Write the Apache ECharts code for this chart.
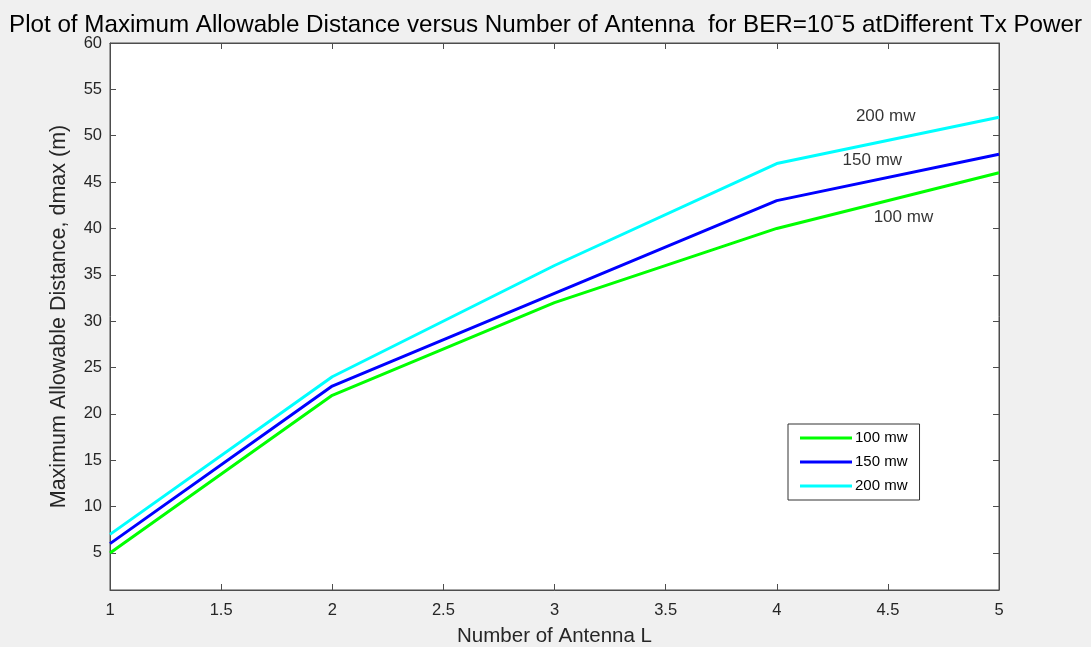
<!DOCTYPE html>
<html><head><meta charset="utf-8">
<script src="https://cdn.jsdelivr.net/npm/echarts@6/dist/echarts.min.js"></script>
<style>html,body{margin:0;padding:0;background:#f0f0f0;}#c{width:1091px;height:647px;}</style>
</head><body><div id="c"></div>
<script>
const antennas = [1, 2, 3, 4, 5];
const p100 = [5, 22, 32, 40, 46];
const p150 = [6, 23, 33, 43, 48];
const p200 = [7, 24, 36, 47, 52];
const seriesNames = ['100 mw', '150 mw', '200 mw'];
const xTicks = [1, 1.5, 2, 2.5, 3, 3.5, 4, 4.5, 5];
const yTicks = [5, 10, 15, 20, 25, 30, 35, 40, 45, 50, 55, 60];
const lineLabels = [
  {text: '200 mw', x: 4.49, y: 52.1},
  {text: '150 mw', x: 4.43, y: 47.3},
  {text: '100 mw', x: 4.57, y: 41.2}
];
const colors = ['#00ff00', '#0000ff', '#00ffff'];
const txt = '#262626';
const font = 'Liberation Sans, Arial, sans-serif';

const chart = echarts.init(document.getElementById('c'));
const axisLine = {show: true, lineStyle: {color: '#4d4d4d', width: 1}};
const tick = {show: true, inside: true, length: 6, lineStyle: {color: '#4d4d4d'}};
const xa = (pos, labels) => ({
  type: 'value', position: pos, min: 1, max: 5,
  axisLine, axisTick: Object.assign({customValues: xTicks}, tick),
  axisLabel: {show: labels, customValues: xTicks, color: txt, fontSize: 16.5, fontFamily: font, margin: 12},
  splitLine: {show: false},
  name: labels ? 'Number of Antenna L' : '', nameLocation: 'middle', nameGap: 36,
  nameTextStyle: {color: txt, fontSize: 20.5, fontFamily: font}
});
const ya = (pos, labels) => ({
  type: 'value', position: pos, min: 1, max: 60,
  axisLine, axisTick: Object.assign({customValues: yTicks}, tick),
  axisLabel: {show: labels, customValues: yTicks, color: txt, fontSize: 16.5, fontFamily: font, margin: 8},
  splitLine: {show: false},
  name: labels ? 'Maximum Allowable Distance, dmax (m)' : '', nameLocation: 'middle', nameGap: 40,
  nameTextStyle: {color: txt, fontSize: 21.5, fontFamily: font}
});
const data = [p100, p150, p200];
const series = data.map((d, i) => ({
  name: seriesNames[i], type: 'line', xAxisIndex: 0, yAxisIndex: 0,
  data: antennas.map((a, j) => [a, d[j]]),
  showSymbol: false, symbol: 'none', animation: false,
  lineStyle: {color: colors[i], width: 3}, itemStyle: {color: colors[i]}
}));
series.push({
  type: 'scatter', xAxisIndex: 0, yAxisIndex: 0, symbolSize: 0, animation: false, silent: true,
  data: lineLabels.map(l => ({value: [l.x, l.y], label: {show: true, formatter: l.text, position: 'inside', color: '#000', fontSize: 17, fontFamily: font}}))
});
chart.setOption({
  backgroundColor: '#f0f0f0',
  animation: false,
  title: {text: 'Plot of Maximum Allowable Distance versus Number of Antenna  for BER=10ˉ5 atDifferent Tx Power',
    left: 'center', top: 8, textStyle: {color: '#000', fontSize: 24.2, fontWeight: 'normal', fontFamily: font}},
  grid: {left: 110, top: 43, right: 92, bottom: 57, outerBoundsMode: 'none', containLabel: false, show: true, backgroundColor: '#fff', borderColor: '#4d4d4d', borderWidth: 1},
  xAxis: [xa('bottom', true), xa('top', false)],
  yAxis: [ya('left', true), ya('right', false)],
  legend: {
    data: seriesNames, orient: 'vertical', left: 788, top: 424,
    backgroundColor: '#fff', borderColor: '#333', borderWidth: 1,
    padding: [6.5, 12, 6.5, 12], itemWidth: 52, itemHeight: 3, itemGap: 9,
    icon: 'rect', textStyle: {color: '#000', fontSize: 15, fontFamily: font, padding: [0, 0, 0, -2]}
  },
  series
});
</script></body></html>
